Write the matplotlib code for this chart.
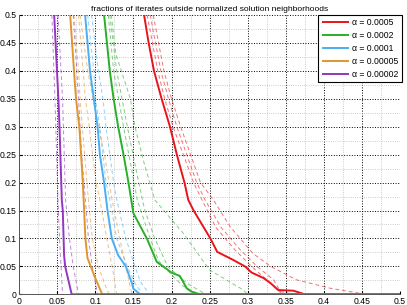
import matplotlib
matplotlib.use("Agg")
import matplotlib.pyplot as plt
from matplotlib.ticker import MultipleLocator

plt.rcParams["font.family"] = ["Liberation Sans", "DejaVu Sans"]

title = "fractions of iterates outside normalized solution neighborhoods"
labels = ["α = 0.0005", "α = 0.0002", "α = 0.0001", "α = 0.00005", "α = 0.00002"]
colors = ["#e8141c", "#28b028", "#4aaef5", "#e0962e", "#9436c0"]

# solid curves (mean), x = radius, y = fraction outside
red_x = [0.164, 0.170, 0.177, 0.187, 0.198, 0.207, 0.217, 0.222, 0.229, 0.251, 0.260, 0.281, 0.297, 0.305, 0.321, 0.330, 0.340, 0.360, 0.375, 0.5]
red_y = [0.50, 0.45, 0.40, 0.35, 0.30, 0.25, 0.20, 0.169, 0.15, 0.100, 0.076, 0.0615, 0.0495, 0.039, 0.029, 0.020, 0.0077, 0.0065, 0.0, 0.0]
green_x = [0.1115, 0.119, 0.124, 0.130, 0.137, 0.1435, 0.150, 0.1676, 0.177, 0.1807, 0.194, 0.200, 0.211, 0.220, 0.226, 0.2375, 0.5]
green_y = [0.50, 0.40, 0.35, 0.30, 0.25, 0.20, 0.145, 0.100, 0.070, 0.058, 0.045, 0.0388, 0.0328, 0.0107, 0.005, 0.0, 0.0]
blue_x = [0.0866, 0.093, 0.103, 0.106, 0.1115, 0.116, 0.1216, 0.130, 0.140, 0.148, 0.150, 0.159, 0.5]
blue_y = [0.50, 0.40, 0.30, 0.25, 0.20, 0.15, 0.10, 0.07, 0.05, 0.02, 0.01, 0.0, 0.0]
orange_x = [0.067, 0.072, 0.0748, 0.079, 0.0836, 0.087, 0.0897, 0.0997, 0.109, 0.5]
orange_y = [0.50, 0.40, 0.348, 0.30, 0.20, 0.10, 0.065, 0.03, 0.0, 0.0]
purple_x = [0.046, 0.0516, 0.053, 0.056, 0.0573, 0.059, 0.0604, 0.069, 0.5]
purple_y = [0.50, 0.348, 0.30, 0.169, 0.15, 0.07, 0.05, 0.0, 0.0]

# dashed curves (individual runs)
red_runs = [
    ([0.168, 0.182, 0.191, 0.202, 0.229, 0.240, 0.258, 0.283, 0.305, 0.325, 0.338, 0.345],
     [0.50, 0.40, 0.35, 0.30, 0.20, 0.169, 0.12, 0.08, 0.05, 0.026, 0.01, 0.0]),
    ([0.172, 0.186, 0.196, 0.207, 0.233, 0.244, 0.265, 0.290, 0.312, 0.334, 0.343, 0.360],
     [0.50, 0.40, 0.35, 0.30, 0.20, 0.169, 0.12, 0.08, 0.05, 0.026, 0.005, 0.0]),
    ([0.176, 0.190, 0.200, 0.212, 0.238, 0.255, 0.277, 0.307, 0.330, 0.364, 0.408, 0.455],
     [0.50, 0.40, 0.35, 0.30, 0.20, 0.169, 0.121, 0.073, 0.05, 0.026, 0.011, 0.0]),
]
green_runs = [
    ([0.117, 0.124, 0.137, 0.151, 0.155, 0.172, 0.183, 0.200, 0.215, 0.235],
     [0.50, 0.40, 0.30, 0.20, 0.169, 0.10, 0.06, 0.035, 0.015, 0.0]),
    ([0.119, 0.128, 0.135, 0.142, 0.157, 0.165, 0.178, 0.195, 0.220, 0.245],
     [0.50, 0.40, 0.35, 0.30, 0.20, 0.15, 0.10, 0.05, 0.02, 0.0]),
    ([0.121, 0.127, 0.146, 0.152, 0.163, 0.178, 0.2156, 0.250, 0.294, 0.300],
     [0.50, 0.43, 0.35, 0.30, 0.24, 0.169, 0.109, 0.0436, 0.008, 0.0]),
]
blue_runs = [
    ([0.090, 0.098, 0.100, 0.106, 0.114, 0.119, 0.128, 0.142, 0.152, 0.162],
     [0.50, 0.40, 0.35, 0.30, 0.20, 0.17, 0.10, 0.05, 0.02, 0.0]),
    ([0.095, 0.104, 0.110, 0.114, 0.124, 0.128, 0.140, 0.152, 0.159, 0.171],
     [0.50, 0.40, 0.35, 0.30, 0.20, 0.17, 0.10, 0.05, 0.023, 0.0]),
]
orange_runs = [
    ([0.072, 0.078, 0.080, 0.083, 0.089, 0.091, 0.096, 0.104, 0.112, 0.118],
     [0.50, 0.40, 0.35, 0.30, 0.20, 0.169, 0.10, 0.05, 0.02, 0.0]),
    ([0.078, 0.084, 0.087, 0.092, 0.101, 0.106, 0.115, 0.122, 0.126, 0.128],
     [0.50, 0.40, 0.35, 0.30, 0.20, 0.169, 0.10, 0.05, 0.02, 0.0]),
    ([0.080, 0.090, 0.104, 0.112, 0.118, 0.122, 0.132, 0.140, 0.148],
     [0.50, 0.40, 0.30, 0.25, 0.20, 0.169, 0.10, 0.05, 0.0]),
]
purple_runs = [
    ([0.043, 0.047, 0.051, 0.053, 0.055, 0.057],
     [0.50, 0.35, 0.169, 0.10, 0.05, 0.0]),
    ([0.051, 0.057, 0.061, 0.066, 0.071, 0.078],
     [0.50, 0.35, 0.169, 0.10, 0.05, 0.0]),
    ([0.071, 0.078, 0.082, 0.087, 0.091, 0.096, 0.103],
     [0.50, 0.35, 0.25, 0.169, 0.10, 0.05, 0.0]),
]

solid = [(red_x, red_y), (green_x, green_y), (blue_x, blue_y), (orange_x, orange_y), (purple_x, purple_y)]
runs = [red_runs, green_runs, blue_runs, orange_runs, purple_runs]

fig = plt.figure(figsize=(4.07, 3.05), dpi=100)
ax = fig.add_axes([0.047, 0.035, 0.936, 0.916])

for col, rr in zip(colors, runs):
    for rx, ry in rr:
        ax.plot(rx, ry, color=col, lw=0.7, ls=(0, (4, 3)), alpha=0.6)

for (sx, sy), col, lab in zip(solid, colors, labels):
    ax.plot(sx, sy, color=col, lw=1.4, label=lab, solid_capstyle="butt")

ax.set_xlim(0, 0.5)
ax.set_ylim(0, 0.5)
ax.xaxis.set_minor_locator(MultipleLocator(0.025))
ax.yaxis.set_minor_locator(MultipleLocator(0.025))
xt = [0, 0.05, 0.1, 0.15, 0.2, 0.25, 0.3, 0.35, 0.4, 0.45, 0.5]
ax.set_xticks(xt)
ax.set_xticklabels(["0" if v == 0 else ("%g" % v) for v in xt])
ax.set_yticks(xt)
ax.set_yticklabels(["0" if v == 0 else ("%g" % v) for v in xt])
ax.tick_params(which="both", direction="in", labelsize=6.2, length=2, pad=2)
ax.tick_params(which="minor", length=0)
ax.grid(which="major", color="black", ls=":", lw=0.7)
ax.grid(which="minor", color="#bbbbbb", ls=":", lw=0.6)
for s in ["top", "right"]:
    ax.spines[s].set_visible(False)
for s in ["left", "bottom"]:
    ax.spines[s].set_color("#555555")
    ax.spines[s].set_linewidth(0.7)

ax.set_title(title, fontsize=6.1, pad=3)

leg = ax.legend(loc="upper right", fontsize=6.2, frameon=True, fancybox=False,
                handlelength=3.2, borderaxespad=0.0, labelspacing=0.45,
                handletextpad=0.3, borderpad=0.4, bbox_to_anchor=(1.004, 1.0))
leg.get_frame().set_edgecolor("black")
leg.get_frame().set_linewidth(0.8)
leg.get_frame().set_alpha(1)

fig.savefig("out.png", dpi=100)
